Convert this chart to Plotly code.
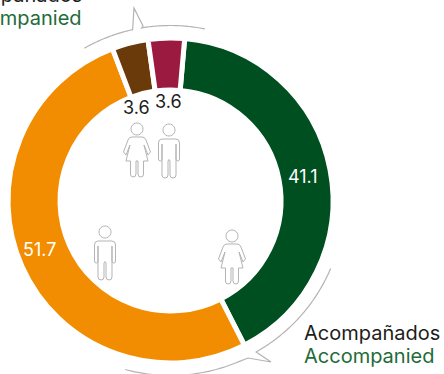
import math
import plotly.graph_objects as go

W, H = 444, 374
segments = ["Accompanied girls/women", "Accompanied boys/men", "Unaccompanied boys/men", "Unaccompanied girls/women"]
values = [41.1, 51.7, 3.6, 3.6]
colors = ["#004F20", "#F28C00", "#6B3A0A", "#9B1B40"]
label_colors = ["#ffffff", "#ffffff", "#1d1d1b", "#1d1d1b"]
label_pos = [(303, 176), (39, 249), (136, 107), (168, 102)]
cap_es = "Acompañados"
cap_en = "Accompanied"
cap_es2 = "No acompañados"
cap_en2 = "Unaccompanied"

CX, CY, R = 170.5, 200.5, 162.5
GREY = "#b4b4b4"
FONT = "Inter"


def px(x, y):
    return x / W, 1 - y / H


def path(cmds, ox=0, oy=0):
    out = []
    for c in cmds:
        pts = []
        for i in range(1, len(c), 2):
            a, b = px(c[i] + ox, c[i + 1] + oy)
            pts.append(f"{a:.5f},{b:.5f}")
        out.append(c[0] + " " + " ".join(pts))
    return " ".join(out)


def mirror(cmds):
    return [(c[0],) + tuple(-v if i % 2 == 0 else v for i, v in enumerate(c[1:])) for c in cmds]


def arc_pts(a0, a1, r=175, n=40):
    return [(CX + r * math.sin(math.radians(a0 + (a1 - a0) * i / n)),
             CY - r * math.cos(math.radians(a0 + (a1 - a0) * i / n))) for i in range(n + 1)]


def poly(pts):
    return [("M" if i == 0 else "L", p[0], p[1]) for i, p in enumerate(pts)]


def head(ox, oy, r=6):
    pts = [(r * math.cos(i * math.pi / 12), r * math.sin(i * math.pi / 12)) for i in range(24)]
    return path(poly(pts) + [("Z",)], ox, oy)


MAN = [("M", 0, 9), ("L", 7, 9), ("Q", 10.5, 9, 10.5, 13), ("L", 10.5, 29), ("Q", 10.5, 31, 8.7, 31),
       ("Q", 7, 31, 7, 29), ("L", 7, 14), ("L", 7, 45), ("Q", 7, 48, 4, 48), ("Q", 1, 48, 1, 45),
       ("L", 1, 31), ("Q", 0, 29.5, 0, 29.5)]
WOMAN = [("M", 0, 8), ("L", 5, 8), ("Q", 8, 8, 9, 11), ("L", 13.5, 23), ("L", 11, 26), ("L", 7, 16),
         ("L", 11, 32), ("L", 6.5, 32), ("L", 6.5, 45), ("Q", 6.5, 48, 4, 48), ("Q", 1, 48, 1, 45),
         ("L", 1, 32), ("L", 0, 32)]


def person(kind, x, y):
    half = MAN if kind == "m" else WOMAN
    s = [dict(type="path", xref="paper", yref="paper", path=head(x, y),
              line=dict(color=GREY, width=1))]
    for part in (half, mirror(half)):
        s.append(dict(type="path", xref="paper", yref="paper", path=path(part, x, y),
                      line=dict(color=GREY, width=1)))
    return s


shapes = []
for k, x, y in [("w", 137, 129), ("m", 169, 130), ("m", 105, 232), ("w", 232, 236)]:
    shapes += person(k, x, y)

top = arc_pts(-29.5, -12.5) + [(134, 8), (143, 26)] + arc_pts(-9.5, 11.3)
bottom = arc_pts(113, 150.5, 174) + [(271, 362), (248, 358)] + arc_pts(157, 195, 175)
for pts in (top, bottom):
    shapes.append(dict(type="path", xref="paper", yref="paper", path=path(poly(pts)),
                       line=dict(color=GREY, width=1.2)))

annotations = []
for v, c, (x, y) in zip(values, label_colors, label_pos):
    a, b = px(x, y)
    annotations.append(dict(x=a, y=b, xref="paper", yref="paper", text=str(v), showarrow=False,
                            xanchor="center", yanchor="middle",
                            font=dict(family=FONT, size=18, color=c)))
for text, x, y, anchor, col in [(cap_es, 302, 333, "left", "#1d1d1b"), (cap_en, 302, 356, "left", "#1F6B3A"),
                                (cap_es2, 84, -5, "right", "#1d1d1b"), (cap_en2, 84, 18, "right", "#1F6B3A")]:
    a, b = px(x, y)
    annotations.append(dict(x=a, y=b, xref="paper", yref="paper", text=text, showarrow=False,
                            xanchor=anchor, yanchor="middle",
                            font=dict(family=FONT, size=20, color=col)))

fig = go.Figure(go.Pie(labels=segments, values=values, hole=0.68, sort=False, direction="clockwise",
                       rotation=5, textinfo="none", showlegend=False,
                       marker=dict(colors=colors, line=dict(color="#ffffff", width=5)),
                       domain=dict(x=[(CX - R) / W, (CX + R) / W], y=[1 - (CY + R) / H, 1 - (CY - R) / H])))
fig.update_layout(width=W, height=H, margin=dict(l=0, r=0, t=0, b=0), paper_bgcolor="#ffffff",
                  plot_bgcolor="#ffffff", shapes=shapes, annotations=annotations,
                  font=dict(family=FONT))
fig.write_html("out.html", config=dict(displayModeBar=False),
               post_script="document.body.style.margin='0';document.documentElement.style.overflow='hidden';")
